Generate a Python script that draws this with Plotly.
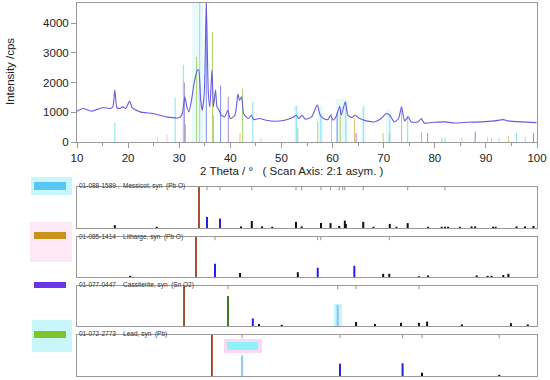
import plotly.graph_objects as go

W, H = 550, 380
FONT = "Liberation Sans, Arial, sans-serif"

# ---------------- measured pattern ----------------
scan_2theta = [10.0, 11.2, 12.8, 15.1, 16.4, 17.0, 17.4, 17.8, 18.3, 19.0, 19.5, 20.3, 20.8,
               22.3, 24.9, 27.5, 30.1, 30.6, 31.1, 31.5, 31.9, 32.4, 32.9, 33.5, 33.8, 34.2,
               34.5, 34.9, 35.3, 35.7, 36.0, 36.4, 36.7, 37.1, 37.4, 37.8, 38.2, 38.9, 39.5,
               40.0, 40.9, 41.5, 41.8, 42.2, 42.6, 43.5, 44.1, 44.6, 45.7, 47.0, 48.7, 50.6,
               52.2, 52.9, 53.4, 54.0, 54.7, 55.9, 57.0, 57.6, 58.5, 59.1, 59.6, 60.1, 60.7,
               61.4, 61.7, 62.5, 63.0, 63.8, 64.4, 65.3, 66.6, 68.2, 69.5, 70.5, 71.2, 72.1,
               72.9, 73.5, 74.1, 74.8, 75.4, 76.7, 77.4, 77.9, 80.0, 82.0, 83.9, 86.5, 89.1,
               91.7, 93.4, 94.3, 96.9, 99.9]
scan_cps = [1037, 1127, 1037, 1160, 1127, 1183, 1747, 1160, 1127, 1183, 1127, 1375, 1160,
            1014, 958, 845, 823, 958, 1521, 1183, 1014, 1400, 1972, 2400, 2430, 1400,
            1070, 1634, 4680, 1634, 1183, 2420, 1183, 1747, 1183, 1070, 902, 845, 1070,
            789, 902, 1611, 1400, 1521, 958, 789, 902, 755, 789, 733, 700, 733,
            823, 902, 789, 902, 766, 845, 1240, 902, 766, 755, 902, 733, 868,
            1206, 902, 1352, 902, 823, 902, 789, 710, 676, 789, 958, 902, 676,
            789, 1183, 710, 845, 676, 676, 789, 642, 665, 676, 642, 665, 676,
            710, 755, 710, 676, 654]

# reference sticks overlaid on the scan
stick_pos = [17.4, 29.2, 30.8, 34.0, 44.4, 52.9, 57.7, 59.8, 62.6, 66.0, 71.2, 74.7, 96.0, 81.4, 82.0,
             35.3, 38.1, 60.9, 87.9, 99.3,
             33.4, 36.5, 42.4, 53.2, 61.5, 71.1, 73.5, 77.4,
             36.7, 41.9, 57.1, 64.3, 69.9, 94.4,
             31.0, 39.6, 64.6, 78.6,
             31.2, 27.6, 25.8, 46.0, 85.3, 90.3, 91.1, 92.6, 97.7]
stick_cps = [640, 1500, 2600, 4700, 1350, 1210, 970, 960, 1350, 1170, 850, 900, 300, 150, 150,
             4700, 1900, 960, 350, 300,
             2860, 3700, 1800, 470, 1075, 300, 1075, 340,
             900, 300, 680, 800, 300, 200,
             2000, 1520, 300, 300,
             600, 250, 150, 120, 150, 150, 150, 120, 180]
stick_col = (["cyan"] * 15 + ["blue"] * 5 + ["green"] * 8 + ["orange"] * 6 +
             ["purple"] * 4 + ["gray"] * 1 + ["pink"] * 2 + ["lblue"] * 6)
COLS = {"cyan": "#7fe4f4", "blue": "#7a8cf0", "green": "#a9d56c", "orange": "#e3c46e",
        "purple": "#a985dc", "gray": "#b5b1bd", "pink": "#f3c6ec", "lblue": "#b7d7f3"}

band_pos = [33.6, 52.9, 57.7, 61.8, 66.2, 71.0]
band_width = [2.2, 0.7, 1.0, 2.4, 0.8, 1.0]
band_top = [4700, 1250, 1250, 1450, 1250, 1100]

# ---------------- reference cards ----------------
card_labels = ["01-088-1589 ,  Messicot, syn  (Pb O)",
               "01-085-1414    Litharge, syn  (Pb O)",
               "01-077-0447    Cassiterite, syn  (Sn O2)",
               "01-072-2773    Lead, syn  (Pb)"]
card_colors = ["#5ac6f4", "#c9921c", "#6a35ea", "#7cc52c"]

main_pos = [33.87, 33.28, 30.94, 36.4]
main_col = "#9a4020"

p1_pos = [35.43, 37.98, 17.4, 25.6, 42.1, 44.2, 46.2, 48.2, 52.85, 53.96, 57.74, 59.6, 61.3, 62.4,
          62.6, 66.0, 68.0, 71.2, 72.5, 74.7, 78.7, 81.35, 82.0, 82.6, 84.9, 87.2, 87.9, 91.4,
          91.9, 96.0, 97.65, 99.3]
p1_h = [0.27, 0.23, 0.07, 0.03, 0.04, 0.17, 0.04, 0.03, 0.15, 0.04, 0.12, 0.12, 0.05, 0.18,
        0.10, 0.15, 0.03, 0.10, 0.03, 0.12, 0.03, 0.03, 0.03, 0.03, 0.03, 0.04, 0.04, 0.03,
        0.03, 0.04, 0.04, 0.05]
p1_blue = [35.43, 37.98]

p2_pos = [37.0, 41.9, 20.4, 53.2, 57.1, 64.26, 69.9, 71.1, 76.9, 78.7, 88.2, 90.35, 91.1, 93.4, 94.4]
p2_h = [0.33, 0.10, 0.03, 0.12, 0.23, 0.28, 0.08, 0.08, 0.02, 0.04, 0.04, 0.03, 0.03, 0.05, 0.08]
p2_blue = [37.0, 57.1, 64.26]

p3_pos = [44.4, 45.6, 50.05, 64.6, 68.3, 73.4, 76.9, 78.5, 85.3, 94.9, 98.2]
p3_h = [0.19, 0.05, 0.03, 0.10, 0.05, 0.08, 0.08, 0.11, 0.04, 0.07, 0.04]
p3_blue = [44.4]
p3_green_pos = [39.55]
p3_green_h = [0.75]
p3_light_pos = [61.0]
p3_light_h = [0.52]

p4_pos = [61.45, 73.7, 77.5, 92.6]
p4_h = [0.30, 0.31, 0.08, 0.03]
p4_blue = [61.45, 73.7]
p4_light_pos = [42.3]
p4_light_h = [0.50]

top_marks = [[35.43, 37.98, 44.2, 52.85, 53.96, 57.74, 59.6, 61.3, 62.0, 62.4, 66.0, 74.7, 82.0],
             [37.0, 57.1, 57.7, 71.1],
             [39.55, 61.0, 64.6, 76.9],
             [42.3, 61.45, 73.7, 77.5, 92.6]]

# ---------------- layout geometry (page pixels) ----------------
X0, X1 = 77, 537
TOP_Y0, TOP_Y1 = 3, 142
PANELS = [(187, 228), (237, 277), (286, 326), (335, 376)]


def fx(px):
    return px / W


def fy(py):
    return (H - py) / H


def sticks(pos, h, base=0.0):
    xs, ys = [], []
    for p, v in zip(pos, h):
        xs += [p, p, None]
        ys += [base, v, None]
    return xs, ys


fig = go.Figure()

# highlight bands
for c, w, t in zip(band_pos, band_width, band_top):
    fig.add_trace(go.Bar(x=[c], y=[t], width=[w], marker=dict(color="#e3f8fb", line_width=0),
                         opacity=0.8, showlegend=False, hoverinfo="skip", xaxis="x", yaxis="y"))

# coloured sticks on scan
for key in COLS:
    ps = [p for p, c in zip(stick_pos, stick_col) if c == key]
    hs = [v for v, c in zip(stick_cps, stick_col) if c == key]
    xs, ys = sticks(ps, hs)
    fig.add_trace(go.Scatter(x=xs, y=ys, mode="lines", line=dict(color=COLS[key], width=1),
                             showlegend=False, hoverinfo="skip", xaxis="x", yaxis="y"))

fig.add_trace(go.Scatter(x=scan_2theta, y=scan_cps, mode="lines",
                         line=dict(color="#6a5ae0", width=1.1, shape="spline", smoothing=0.6),
                         showlegend=False, xaxis="x", yaxis="y"))

# panels
panel_data = [(p1_pos, p1_h, p1_blue), (p2_pos, p2_h, p2_blue), (p3_pos, p3_h, p3_blue),
              (p4_pos, p4_h, p4_blue)]
for i, (pos, h, blues) in enumerate(panel_data):
    xa, ya = "x%d" % (i + 2), "y%d" % (i + 2)
    if i == 2:
        fig.add_trace(go.Bar(x=p3_light_pos, y=[0.55], width=[1.5], marker=dict(color="#c8f4fb", line_width=0),
                             showlegend=False, hoverinfo="skip", xaxis=xa, yaxis=ya))
        xs, ys = sticks(p3_light_pos, p3_light_h)
        fig.add_trace(go.Scatter(x=xs, y=ys, mode="lines", line=dict(color="#86c6ee", width=2),
                                 showlegend=False, hoverinfo="skip", xaxis=xa, yaxis=ya))
        xs, ys = sticks(p3_green_pos, p3_green_h)
        fig.add_trace(go.Scatter(x=xs, y=ys, mode="lines", line=dict(color="#3c7a22", width=2),
                                 showlegend=False, hoverinfo="skip", xaxis=xa, yaxis=ya))
    if i == 3:
        xs, ys = sticks(p4_light_pos, p4_light_h)
        fig.add_trace(go.Scatter(x=xs, y=ys, mode="lines", line=dict(color="#8fd0f0", width=2.2),
                                 showlegend=False, hoverinfo="skip", xaxis=xa, yaxis=ya))
    xs, ys = sticks([main_pos[i]], [1.0])
    fig.add_trace(go.Scatter(x=xs, y=ys, mode="lines", line=dict(color=main_col, width=1.8),
                             showlegend=False, hoverinfo="skip", xaxis=xa, yaxis=ya))
    bp = [p for p in pos if p in blues]
    bh = [v for p, v in zip(pos, h) if p in blues]
    kp = [p for p in pos if p not in blues]
    kh = [v for p, v in zip(pos, h) if p not in blues]
    xs, ys = sticks(kp, kh)
    fig.add_trace(go.Scatter(x=xs, y=ys, mode="lines", line=dict(color="#111111", width=2),
                             showlegend=False, hoverinfo="skip", xaxis=xa, yaxis=ya))
    xs, ys = sticks(bp, bh)
    fig.add_trace(go.Scatter(x=xs, y=ys, mode="lines", line=dict(color="#2222dd", width=2),
                             showlegend=False, hoverinfo="skip", xaxis=xa, yaxis=ya))
    xs, ys = sticks(top_marks[i], [1.0] * len(top_marks[i]), base=0.92)
    fig.add_trace(go.Scatter(x=xs, y=ys, mode="lines", line=dict(color="#777777", width=0.8),
                             showlegend=False, hoverinfo="skip", xaxis=xa, yaxis=ya))

axis_common = dict(linecolor="#9a9a9a", linewidth=1, mirror=True, showline=True, showgrid=False,
                   zeroline=False, automargin=False)
layout = dict(
    width=W, height=H, autosize=False, showlegend=False,
    margin=dict(l=0, r=0, t=0, b=0, pad=0, autoexpand=False),
    paper_bgcolor="white", plot_bgcolor="white", barmode="overlay", bargap=0,
    font=dict(family=FONT, color="#222222"),
    xaxis=dict(domain=[fx(X0), fx(X1)], range=[10, 100], anchor="y", tickmode="linear", tick0=10,
               dtick=10, ticks="outside", ticklen=5, tickcolor="#9a9a9a",
               tickfont=dict(size=11.5, color="#222222"),
               minor=dict(dtick=5, ticks="outside", ticklen=3, tickcolor="#9a9a9a"), **axis_common),
    yaxis=dict(domain=[fy(TOP_Y1), fy(TOP_Y0)], range=[0, 4680], anchor="x", tickvals=[0, 1000, 2000, 3000, 4000],
               ticks="outside", ticklen=5, tickcolor="#9a9a9a", tickfont=dict(size=11.5, color="#222222"),
               **axis_common),
)
for i, (t, b) in enumerate(PANELS):
    layout["xaxis%d" % (i + 2)] = dict(domain=[fx(X0), fx(X1)], range=[10, 100], anchor="y%d" % (i + 2),
                                       showticklabels=False, ticks="", **axis_common)
    layout["yaxis%d" % (i + 2)] = dict(domain=[fy(b), fy(t)], range=[0, 1.0], anchor="x%d" % (i + 2),
                                       showticklabels=False, ticks="", **axis_common)
fig.update_layout(**layout)

# axis titles
fig.add_annotation(text="Intensity /cps", x=fx(10), y=fy(72), xref="paper", yref="paper",
                   xanchor="center", yanchor="middle",
                   textangle=-90, showarrow=False, font=dict(size=11.5, color="#222222"))
fig.add_annotation(text="2 Theta / \u00b0   ( Scan Axis: 2:1 asym. )", x=fx(292), y=fy(171),
                   xanchor="center", yanchor="middle",
                   xref="paper", yref="paper", showarrow=False, font=dict(size=11.5, color="#222222"))

# decoration glows and swatches
glows = [(31, 177, 72, 195, "#c9f6fb"), (30, 222, 72, 262, "#fde8f8"), (32, 320, 72, 352, "#c9f6fb"),
         (224, 339, 262, 353, "#fbd9f3")]
for x0, y0, x1, y1, c in glows:
    fig.add_shape(type="rect", xref="paper", yref="paper", x0=fx(x0), x1=fx(x1), y0=fy(y1), y1=fy(y0),
                  fillcolor=c, line_width=0, layer="below")
fig.add_shape(type="rect", xref="paper", yref="paper", x0=fx(227), x1=fx(258), y0=fy(350), y1=fy(342),
              fillcolor="#8ff2fb", line_width=0)
sw_y = [(182, 190), (232, 239), (282, 288), (331, 338)]
label_y = [185.5, 236.5, 285, 334.3]
for (y0, y1), c, lab, ly in zip(sw_y, card_colors, card_labels, label_y):
    fig.add_shape(type="rect", xref="paper", yref="paper", x0=fx(34), x1=fx(66), y0=fy(y1), y1=fy(y0),
                  fillcolor=c, line_width=0)
    fig.add_annotation(text=lab, x=fx(X0), y=fy(ly), xref="paper", yref="paper", xanchor="left",
                       yanchor="middle", showarrow=False, font=dict(size=6.5, color="#333333"))

fig.write_html("out.html", config={"displayModeBar": False, "responsive": False},
               post_script="document.body.style.margin='0';document.body.style.overflow='hidden';")
